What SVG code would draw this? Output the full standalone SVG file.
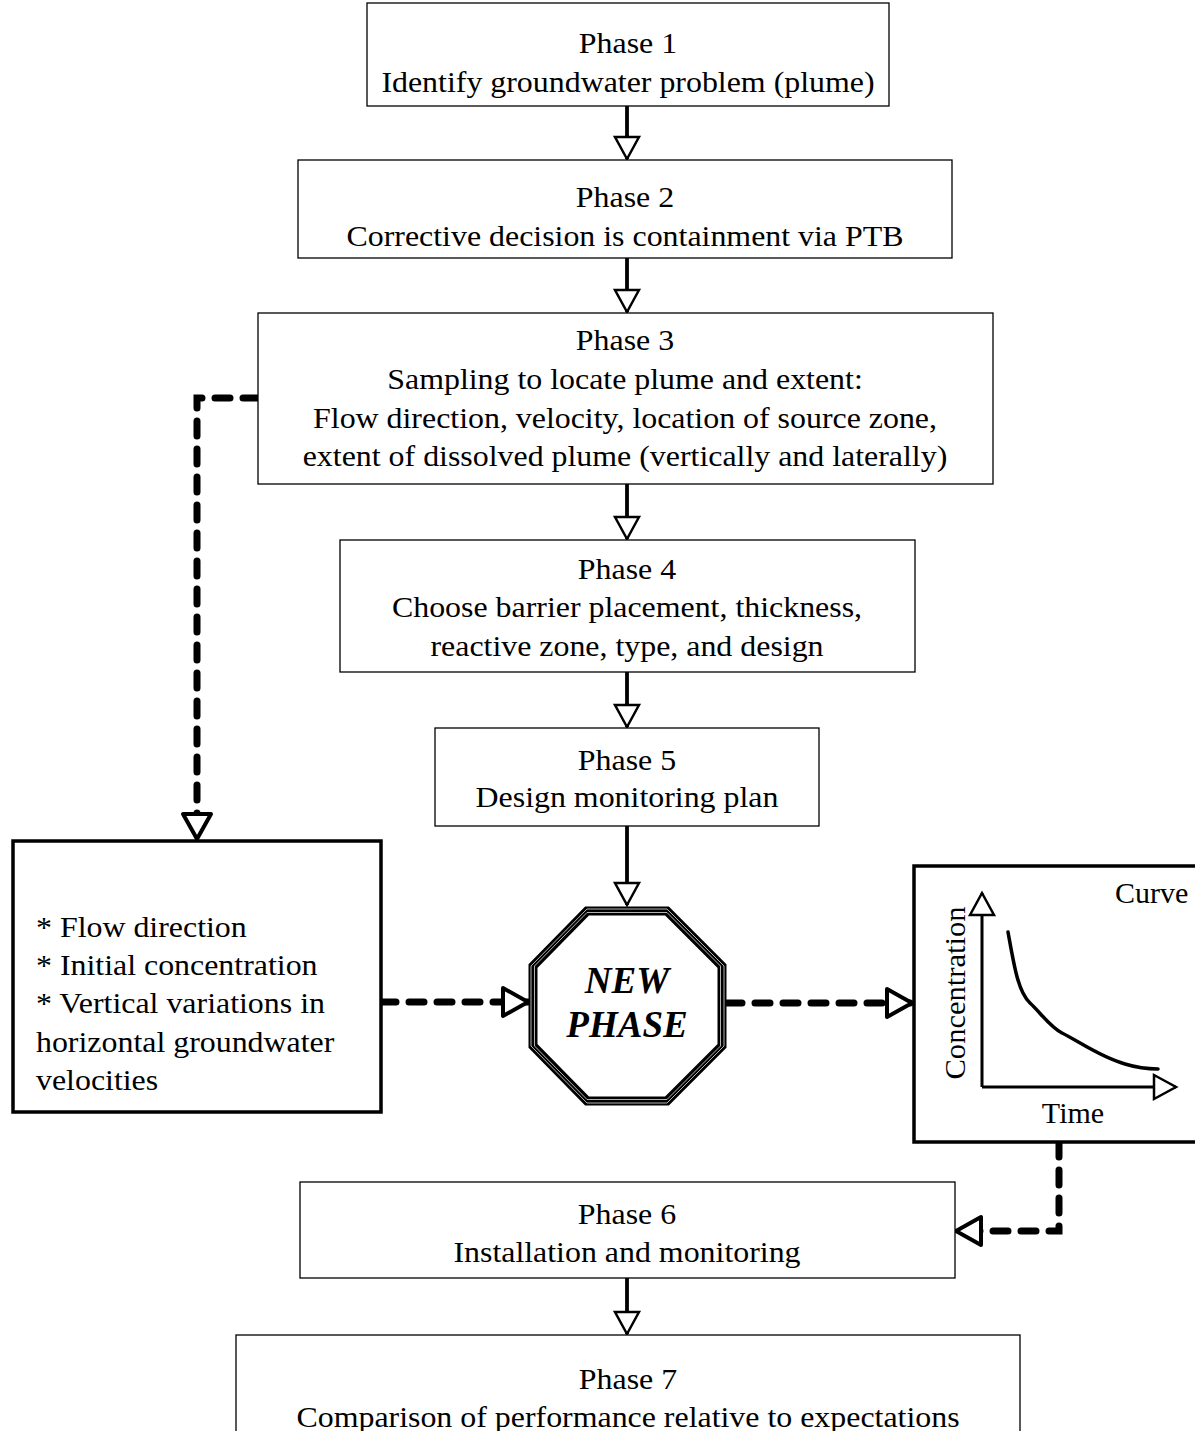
<svg xmlns="http://www.w3.org/2000/svg" width="1195" height="1431" viewBox="0 0 1195 1431">
<style>
.box{fill:#fff;stroke:#000;stroke-width:1.3}
.tbox{fill:#fff;stroke:#000;stroke-width:3.5}
.t{font-family:"Liberation Serif","Times New Roman",serif;font-size:29px;fill:#000}
.c{text-anchor:middle}
.solid{fill:none;stroke:#000;stroke-width:3.8}
.dash{fill:none;stroke:#000;stroke-width:7;stroke-dasharray:15 13;stroke-linecap:round}
.np{font-family:"Liberation Serif","Times New Roman",serif;font-size:37px;font-weight:bold;font-style:italic;text-anchor:middle}
</style>
<defs>
<marker id="ah" markerUnits="userSpaceOnUse" markerWidth="30" markerHeight="30" viewBox="-3 -3 30 30" refX="22" refY="12" orient="auto">
<path d="M0,0 L22,12 L0,24 Z" fill="#fff" stroke="#000" stroke-width="2.5" stroke-linejoin="miter"/>
</marker>
<marker id="ahd" markerUnits="userSpaceOnUse" markerWidth="36" markerHeight="36" viewBox="-4 -4 36 36" refX="25" refY="14" orient="auto">
<path d="M0,0 L25,14 L0,28 Z" fill="#fff" stroke="#000" stroke-width="4" stroke-linejoin="round"/>
</marker>
</defs>
<g id="connectors">
<line class="solid" x1="627" y1="106" x2="627" y2="159" marker-end="url(#ah)"/>
<line class="solid" x1="627" y1="258" x2="627" y2="312" marker-end="url(#ah)"/>
<line class="solid" x1="627" y1="484" x2="627" y2="539" marker-end="url(#ah)"/>
<line class="solid" x1="627" y1="672" x2="627" y2="727" marker-end="url(#ah)"/>
<line class="solid" x1="627" y1="826" x2="627" y2="905" marker-end="url(#ah)"/>
<line class="solid" x1="627" y1="1278" x2="627" y2="1334" marker-end="url(#ah)"/>
<path class="dash" d="M258,398 L197,398 L197,839" marker-end="url(#ahd)"/>
<path class="dash" d="M381,1002 L528,1002" marker-end="url(#ahd)"/>
<path class="dash" d="M727,1003 L912,1003" marker-end="url(#ahd)"/>
<path class="dash" d="M1059,1142 L1059,1231 L956,1231" marker-end="url(#ahd)"/>
</g>
<g id="phase1">
<rect class="box" x="367" y="3" width="522" height="103"/>
<g transform="matrix(1.1 0 0 1 -62.8 0)">
<text class="t c" x="628" y="53">Phase 1</text>
<text class="t c" x="628" y="92">Identify groundwater problem (plume)</text>
</g>
</g>
<g id="phase2">
<rect class="box" x="298" y="160" width="654" height="98"/>
<g transform="matrix(1.1 0 0 1 -62.5 0)">
<text class="t c" x="625" y="207">Phase 2</text>
<text class="t c" x="625" y="246">Corrective decision is containment via PTB</text>
</g>
</g>
<g id="phase3">
<rect class="box" x="258" y="313" width="735" height="171"/>
<g transform="matrix(1.1 0 0 1 -62.5 0)">
<text class="t c" x="625" y="350">Phase 3</text>
<text class="t c" x="625" y="389">Sampling to locate plume and extent:</text>
<text class="t c" x="625" y="428">Flow direction, velocity, location of source zone,</text>
<text class="t c" x="625" y="466">extent of dissolved plume (vertically and laterally)</text>
</g>
</g>
<g id="phase4">
<rect class="box" x="340" y="540" width="575" height="132"/>
<g transform="matrix(1.1 0 0 1 -62.7 0)">
<text class="t c" x="627" y="579">Phase 4</text>
<text class="t c" x="627" y="617">Choose barrier placement, thickness,</text>
<text class="t c" x="627" y="656">reactive zone, type, and design</text>
</g>
</g>
<g id="phase5">
<rect class="box" x="435" y="728" width="384" height="98"/>
<g transform="matrix(1.1 0 0 1 -62.7 0)">
<text class="t c" x="627" y="770">Phase 5</text>
<text class="t c" x="627" y="807">Design monitoring plan</text>
</g>
</g>
<g id="inputs">
<rect class="tbox" x="13" y="841" width="368" height="271"/>
<g transform="matrix(1.1 0 0 1 -3.6 0)">
<text class="t" x="36" y="937">* Flow direction</text>
<text class="t" x="36" y="975">* Initial concentration</text>
<text class="t" x="36" y="1013">* Vertical variations in</text>
<text class="t" x="36" y="1052">horizontal groundwater</text>
<text class="t" x="36" y="1090">velocities</text>
</g>
</g>
<g id="newphase">
<polygon points="587,911 667,911 722,966 722,1046 667,1101 587,1101 533,1046 533,966" fill="#fff" stroke="#000" stroke-width="9" stroke-linejoin="miter"/>
<polygon points="587,909 667,909 724,966 724,1046 667,1103 587,1103 531,1046 531,966" fill="none" stroke="#fff" stroke-width="0.7" stroke-linejoin="miter"/>
<polygon points="587,912.5 667,912.5 720.5,966 720.5,1046 667,1099.5 587,1099.5 534.5,1046 534.5,966" fill="none" stroke="#fff" stroke-width="0.7" stroke-linejoin="miter"/>
<text class="np" x="627" y="993">NEW</text>
<text class="np" x="627" y="1037">PHASE</text>
</g>
<g id="curve">
<rect class="tbox" x="914" y="866" width="290" height="276"/>
<text class="t" x="1115" y="903" style="font-size:30px">Curve</text>
<line x1="982" y1="1087" x2="982" y2="893" stroke="#000" stroke-width="3" marker-end="url(#ah)"/>
<line x1="982" y1="1087" x2="1176" y2="1087" stroke="#000" stroke-width="3" marker-end="url(#ah)"/>
<text class="t c" transform="translate(965,993) rotate(-90)" textLength="173" lengthAdjust="spacingAndGlyphs">Concentration</text>
<text class="t c" x="1073" y="1123" style="font-size:30px">Time</text>
<path d="M1008,932 C1014,965 1018,992 1030,1003 C1040,1012 1050,1027 1062,1033 C1080,1042 1100,1057 1125,1064 C1138,1068 1150,1069 1158,1069" fill="none" stroke="#000" stroke-width="3.5" stroke-linecap="round"/>
</g>
<g id="phase6">
<rect class="box" x="300" y="1182" width="655" height="96"/>
<g transform="matrix(1.1 0 0 1 -62.7 0)">
<text class="t c" x="627" y="1224">Phase 6</text>
<text class="t c" x="627" y="1262">Installation and monitoring</text>
</g>
</g>
<g id="phase7">
<rect class="box" x="236" y="1335" width="784" height="110"/>
<g transform="matrix(1.1 0 0 1 -62.8 0)">
<text class="t c" x="628" y="1389">Phase 7</text>
<text class="t c" x="628" y="1427">Comparison of performance relative to expectations</text>
</g>
</g>
</svg>
